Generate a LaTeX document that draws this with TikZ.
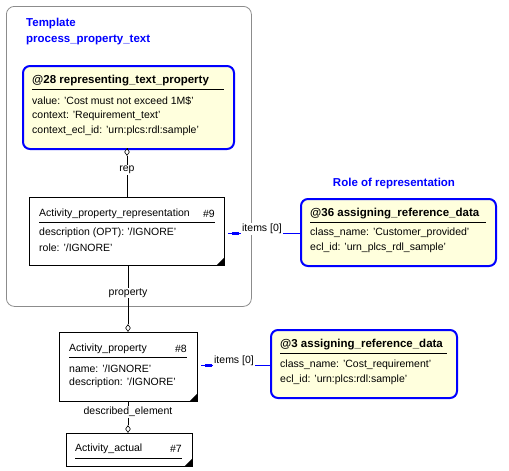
\documentclass[tikz,border=0pt]{standalone}
\usepackage{fontspec}
\setmainfont{Liberation Sans}
\usetikzlibrary{positioning,shapes.geometric}
\definecolor{notefill}{RGB}{255,255,221}
\definecolor{tplgray}{RGB}{140,140,140}
\tikzset{
  entitybox/.style={draw=black, line width=0.9pt, fill=white, anchor=north west, inner sep=0},
  refbox/.style={draw=blue, line width=2pt, rounded corners=7pt, fill=notefill, anchor=north west, inner sep=0},
  txt/.style={anchor=west, inner sep=0, font=\fontsize{10.5}{12}\selectfont},
  ttl/.style={anchor=west, inner sep=0, font=\fontsize{11.5}{13}\selectfont\bfseries},
  roletxt/.style={ttl, text=blue},
  hub/.style={draw, fill=white, diamond, inner sep=0, minimum width=5, minimum height=7, line width=0.6pt},
  lbl/.style={fill=white, inner sep=1pt, font=\fontsize{10.5}{12}\selectfont},
  corner/.style={fill=black}
}

\begin{document}
\begin{tikzpicture}[x=1pt, y=-1pt]
    \useasboundingbox (0, 0) rectangle (509, 471);

    % template frame
    \node[draw=tplgray, line width=0.8pt, rounded corners=8pt, anchor=north west,
          minimum width=245, minimum height=300] (tpl) at (6, 6) {};
    \node[roletxt] (tplname) at (26, 24) {Template};
    \node[roletxt] (tplid) at (26, 40) {process\_property\_text};

    % boxes
    \node[refbox, minimum width=211, minimum height=83] (r28) at (22, 65) {};
    \node[entitybox, minimum width=195, minimum height=68] (e9) at (29, 197) {};
    \node[refbox, minimum width=195, minimum height=67] (r36) at (300, 198) {};
    \node[entitybox, minimum width=138, minimum height=69] (e8) at (59, 332) {};
    \node[refbox, minimum width=186, minimum height=68] (r3) at (270, 329) {};
    \node[entitybox, minimum width=126, minimum height=33] (e7) at (66, 433) {};

    % corners
    \fill[corner] (e9.south east) -- ++(-9, 0) -- ++(9, -9) -- cycle;
    \fill[corner] (e8.south east) -- ++(-9, 0) -- ++(9, -9) -- cycle;
    \fill[corner] (e7.south east) -- ++(-9, 0) -- ++(9, -9) -- cycle;

    % @28
    \node[ttl] (r28t) at (32, 81) {@28 representing\_text\_property};
    \draw (32, 89) -- (224, 89);
    \node[txt] (r28a) at (32, 101) {value: 'Cost must not exceed 1M\$'};
    \node[txt] (r28b) at (32, 116) {context: 'Requirement\_text'};
    \node[txt] (r28c) at (32, 131) {context\_ecl\_id: 'urn:plcs:rdl:sample'};

    % #9
    \node[txt] (e9t) at (39, 214) {Activity\_property\_representation};
    \node[txt, anchor=east] (e9n) at (215, 214) {\#9};
    \draw (39, 222) -- (215, 222);
    \node[txt] (e9a) at (39, 233) {description (OPT): '/IGNORE'};
    \node[txt] (e9b) at (39, 248) {role: '/IGNORE'};

    % @36
    \node[roletxt, anchor=center] (role) at (394, 184) {Role of representation};
    \node[ttl] (r36t) at (310, 214) {@36 assigning\_reference\_data};
    \draw (310, 222) -- (486, 222);
    \node[txt] (r36a) at (310, 233) {class\_name: 'Customer\_provided'};
    \node[txt] (r36b) at (310, 248) {ecl\_id: 'urn\_plcs\_rdl\_sample'};

    % #8
    \node[txt] (e8t) at (69, 349) {Activity\_property};
    \node[txt, anchor=east] (e8n) at (187, 349) {\#8};
    \draw (69, 357) -- (187, 357);
    \node[txt] (e8a) at (69, 369) {name: '/IGNORE'};
    \node[txt] (e8b) at (69, 383) {description: '/IGNORE'};

    % @3
    \node[ttl] (r3t) at (280, 345) {@3 assigning\_reference\_data};
    \draw (280, 353) -- (447, 353);
    \node[txt] (r3a) at (280, 365) {class\_name: 'Cost\_requirement'};
    \node[txt] (r3b) at (280, 380) {ecl\_id: 'urn:plcs:rdl:sample'};

    % #7
    \node[txt] (e7t) at (75, 449) {Activity\_actual};
    \node[txt, anchor=east] (e7n) at (182, 449) {\#7};
    \draw (75, 458) -- (182, 458);

    % links
    \node[hub] (h28) at (127, 152) {};
    \draw (r28.south -| h28) -- (h28) -- (e9.north -| h28);
    \node[lbl] (rep) at (127, 170) {rep};

    \node[hub] (h8) at (128, 328) {};
    \draw (e9.south -| h8) -- (h8) -- (e8.north -| h8);
    \node[lbl] (prop) at (128, 293) {property};

    \node[hub] (h7) at (128, 429) {};
    \draw (e8.south -| h7) -- (h7) -- (e7.north -| h7);
    \node[lbl] (desc) at (128, 412) {described\_element};

    \coordinate (k9) at (228, 233);
    \draw[blue, line width=0.8pt] (r36.west |- k9) -- (k9);
    \fill[blue] (232, 231.5) rectangle (239, 235);
    \node[lbl] (it9) at (262, 229) {items [0]};

    \coordinate (k8) at (201, 365);
    \draw[blue, line width=0.8pt] (r3.west |- k8) -- (k8);
    \fill[blue] (205, 363.5) rectangle (212, 367);
    \node[lbl] (it8) at (234, 361) {items [0]};
\end{tikzpicture}
\end{document}
